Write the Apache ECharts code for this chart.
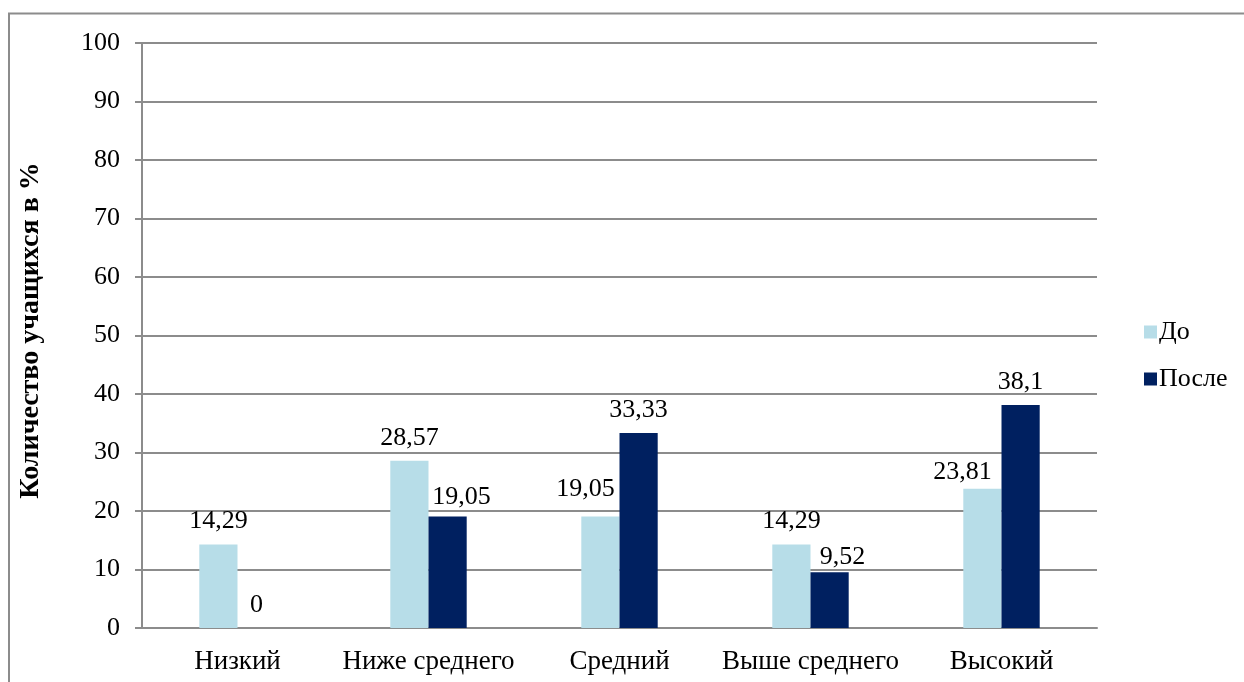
<!DOCTYPE html>
<html>
<head>
<meta charset="utf-8">
<script src="https://cdn.jsdelivr.net/npm/echarts@6/dist/echarts.min.js"></script>
<style>
  html, body { margin: 0; padding: 0; background: #fff; }
  #main { width: 1244px; height: 682px; }
</style>
</head>
<body>
<div id="main"></div>
<script>
var categories = ['Низкий', 'Ниже среднего', 'Средний', 'Выше среднего', 'Высокий'];
var beforeValues = [14.29, 28.57, 19.05, 14.29, 23.81];
var afterValues = [0, 19.05, 33.33, 9.52, 38.1];
var yTicks = [0, 10, 20, 30, 40, 50, 60, 70, 80, 90, 100];

var font = '"Liberation Serif", "Times New Roman", serif';
var gridColor = '#8c8c8c';
var fs = 26;

// labels were nudged by hand in the original so they don't sit on the neighbour bar
var beforeShift = [[0, 0], [0, 0], [-15, -4], [0, 0], [-20, 6]];
var afterShift = [[0, 0], [14, 4], [0, 0], [13, 8], [0, 0]];

function commaLabel(p) {
  return String(p.value).replace('.', ',');
}

function withShift(values, shifts) {
  return values.map(function (v, i) {
    return { value: v, label: { offset: shifts[i] } };
  });
}

var chart = echarts.init(document.getElementById('main'));
var option = {
  animation: false,
  textStyle: { fontFamily: font },
  graphic: [{
    type: 'rect',
    shape: { x: 9, y: 13.5, width: 1260, height: 700 },
    style: { fill: 'none', stroke: gridColor, lineWidth: 2 },
    silent: true
  }],
  legend: {
    orient: 'vertical',
    left: 1139,
    top: 314,
    itemWidth: 13,
    itemHeight: 13,
    itemGap: 21,
    icon: 'rect',
    textStyle: { fontFamily: font, fontSize: fs, color: '#000', padding: [0, 0, 0, -3] },
    data: ['До', 'После']
  },
  grid: { left: 142, top: 43, right: 147, bottom: 54 },
  xAxis: {
    type: 'category',
    data: categories,
    axisLine: { lineStyle: { color: gridColor, width: 2 } },
    axisTick: { show: false },
    axisLabel: { interval: 0, fontFamily: font, fontSize: 27, color: '#000', margin: 20 }
  },
  yAxis: {
    type: 'value',
    min: yTicks[0],
    max: yTicks[yTicks.length - 1],
    interval: 10,
    name: 'Количество учащихся в %',
    nameLocation: 'middle',
    nameGap: 97,
    nameTextStyle: { fontFamily: font, fontSize: 28, fontWeight: 'bold', color: '#000', padding: [0, 0, 0, 10] },
    axisLine: { show: true, lineStyle: { color: gridColor, width: 2 } },
    axisTick: { show: true, length: 7, lineStyle: { color: gridColor, width: 2 } },
    axisLabel: { fontFamily: font, fontSize: fs, color: '#000', margin: 22 },
    splitLine: { lineStyle: { color: gridColor, width: 2 } }
  },
  series: [
    {
      name: 'До',
      type: 'bar',
      data: withShift(beforeValues, beforeShift),
      barGap: '0%',
      barCategoryGap: '60%',
      itemStyle: { color: '#b7dde8' },
      label: { show: true, position: 'top', distance: 10, fontFamily: font, fontSize: fs, color: '#000', formatter: commaLabel }
    },
    {
      name: 'После',
      type: 'bar',
      data: withShift(afterValues, afterShift),
      barGap: '0%',
      barCategoryGap: '60%',
      itemStyle: { color: '#002060' },
      label: { show: true, position: 'top', distance: 10, fontFamily: font, fontSize: fs, color: '#000', formatter: commaLabel }
    }
  ]
};
chart.setOption(option);
</script>
</body>
</html>
